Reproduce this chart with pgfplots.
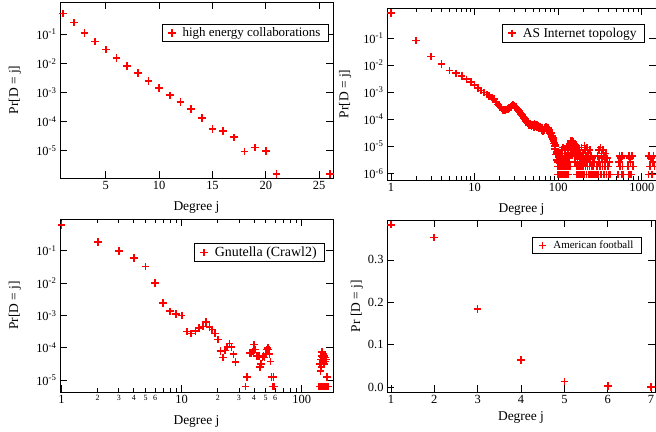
\documentclass[border=0pt]{standalone}
\usepackage{fontspec}
\setmainfont{Liberation Serif}
\usepackage{pgfplots}
\pgfplotsset{compat=1.18}
\newcommand{\tf}{\fontsize{12.5}{14}\selectfont}
\newcommand{\lf}{\fontsize{13.5}{15}\selectfont}
\pgfplotsset{
  myax/.style={
    scale only axis, anchor=south west,
    tick align=inside, xtick pos=both, ytick pos=both,
    major tick length=7bp, minor tick length=4bp,
    axis line style={black, line width=0.9bp},
    tick style={line width=0.8bp, black},
    tick label style={font=\tf, text=black},
    label style={font=\lf, text=black},
    legend style={draw=black, text=black, fill=white, line width=0.9bp, anchor=north east,
      font=\fontsize{13}{15}\selectfont, inner xsep=6bp, inner ysep=1.5bp,
      /tikz/column sep=5bp},
    legend cell align=left,
  },
  redplus/.style={only marks, mark=+, red, mark size=3.8bp, line width=1.7bp},
}
\begin{document}
\begin{tikzpicture}
\useasboundingbox (0,0) rectangle (656bp,432bp);
% Panel 1
\begin{axis}[myax, at={(60bp,254bp)}, width=273bp, height=176bp,
  ymode=log, xmin=0.7, xmax=26.3, ymin=1.17e-6, ymax=1.27,
  xtick={5,10,15,20,25}, xticklabels={5,10,15,20,25},
  ytick={1e-1,1e-2,1e-3,1e-4,1e-5},
  yticklabels={10\textsuperscript{-1},10\textsuperscript{-2},10\textsuperscript{-3},10\textsuperscript{-4},10\textsuperscript{-5}},
  yminorticks=false,
  xlabel={Degree j}, ylabel={Pr[D = j]},
  xlabel style={at={(axis description cs:0.5,-0.17)}, anchor=center},
  ylabel style={at={(axis description cs:-0.165,0.5)}, anchor=center},
  legend style={at={(0.985,0.875)}}]
\addplot[redplus] coordinates {
(1,0.51) (2,0.25) (3,0.11) (4,0.056) (5,0.030) (6,0.015) (7,0.0083) (8,0.0047)
(9,0.0025) (10,0.00145) (11,8.0e-4) (12,4.7e-4) (13,2.7e-4) (14,1.35e-4)
(15,5.6e-5) (16,4.9e-5) (17,2.9e-5) (18,9.5e-6) (19,1.3e-5) (20,1.0e-5)
(21,1.6e-6) (26,1.6e-6)};
\legend{high energy collaborations}
\end{axis}
% Panel 2
\begin{axis}[myax, at={(387bp,252bp)}, width=269bp, height=172bp,
  xmode=log, ymode=log, xmin=0.895, xmax=1480, ymin=5.7e-7, ymax=1.3,
  xtick={1,10,100,1000}, xticklabels={1,10,100,1000},
  ytick={1e-1,1e-2,1e-3,1e-4,1e-5,1e-6},
  yticklabels={10\textsuperscript{-1},10\textsuperscript{-2},10\textsuperscript{-3},10\textsuperscript{-4},10\textsuperscript{-5},10\textsuperscript{-6}},
  yminorticks=false, xminorticks=true,
  xlabel={Degree j}, ylabel={Pr[D = j]},
  xlabel style={at={(axis description cs:0.5,-0.174)}, anchor=center},
  ylabel style={at={(axis description cs:-0.156,0.5)}, anchor=center},
  legend style={at={(0.959,0.907)}, font=\fontsize{13.5}{15}\selectfont}]
\addplot[redplus] coordinates {
(1,0.85) (2,0.082) (3,0.021) (4,0.011) (5,0.0063) (6,0.0050) (7,0.0040) (8,0.0030)
(9,0.0024) (10,0.0019) (11,0.0014) (12,0.00117) (13,9.8e-4) (14,8.3e-4) (15,7.4e-4)
(16,6.3e-4) (17,5.5e-4) (18,4.3e-4) (19,3.5e-4) (20,2.95e-4) (21,2.5e-4) (22,2.2e-4)
(23,2.2e-4) (24,2.3e-4) (25,2.4e-4) (26,2.6e-4) (27,2.8e-4) (28,3.2e-4) (29,3.4e-4)
(30,3.2e-4) (31,2.8e-4) (32,2.5e-4) (33,2.2e-4) (34,2.0e-4) (35,1.8e-4) (36,1.6e-4)
(37,1.4e-4) (38,1.26e-4) (39,1.12e-4) (40,1.0e-4) (41,8.9e-5) (42,7.9e-5) (43,7.4e-5)
(44,7.1e-5) (45,6.0e-5) (46,6.6e-5) (47,6.3e-5) (48,5.6e-5) (49,6.3e-5) (50,6.0e-5)
(51,5.2e-5) (52,6.6e-5) (53,5.6e-5) (54,6.3e-5) (55,5.2e-5) (56,6.0e-5) (57,5.0e-5)
(58,5.6e-5) (59,4.5e-5) (60,5.4e-5) (61,4.8e-5) (62,4.8e-5) (63,4.0e-5) (64,5.0e-5)
(65,4.4e-5) (66,3.5e-5) (67,4.2e-5) (68,3.8e-5) (69,4.5e-5) (70,4.8e-5) (71,5.2e-5)
(72,4.5e-5) (73,5.0e-5) (74,4.2e-5) (75,4.7e-5) (76,5.0e-5) (77,4.0e-5) (78,3.5e-5)
(79,4.2e-5) (80,3.2e-5) (81,2.8e-5) (82,3.2e-5) (83,2.5e-5) (84,2.2e-5) (85,2.4e-5)
(86,1.9e-5) (87,2.1e-5) (88,1.6e-5) (89,1.26e-5) (90,1.4e-5) (91,1.0e-5) (92,7.9e-6)
(93,1.1e-5) (94,5.0e-6) (95,5.6e-6) (96,3.2e-6) (97,6.3e-6)
(98,9e-7) (99,1.8e-6) (100,2.7e-6) (101,9e-7) (102,4.5e-6) (103,9e-7) (104,1.8e-6)
(105,3.6e-6) (106,9e-7) (107,5.4e-6) (108,1.8e-6) (109,9e-7) (110,7.2e-6) (111,2.7e-6)
(112,9e-7) (113,4.5e-6) (114,1.8e-6) (115,9e-6) (116,9e-7) (117,3.6e-6) (118,1.8e-6)
(119,5.4e-6) (120,9e-7) (121,7.2e-6) (122,2.7e-6) (123,1.8e-6) (124,4.5e-6) (125,9e-7)
(126,9e-6) (127,3.6e-6) (128,1.8e-6) (129,5.4e-6) (130,9e-7) (131,1.08e-5) (132,2.7e-6)
(133,7.2e-6) (134,1.8e-6) (135,4.5e-6) (136,1.26e-5) (137,3.6e-6) (138,9e-6) (139,1.8e-6)
(140,1.44e-5) (141,5.4e-6) (142,1.08e-5) (143,1.6e-5) (144,7.2e-6) (145,1.26e-5)
(146,1.44e-5) (147,9e-6) (148,1.6e-5) (149,1.08e-5) (150,1.26e-5) (151,5.4e-6)
(152,1.44e-5) (153,9e-6) (154,1.08e-5) (155,7.2e-6) (156,1.26e-5) (157,4.5e-6)
(158,1.08e-5) (159,9e-6) (160,2.7e-6) (161,7.2e-6) (162,1.08e-5) (163,5.4e-6)
(164,9e-6) (165,1.8e-6) (166,7.2e-6) (167,4.5e-6) (168,9e-7) (169,5.4e-6) (170,3.6e-6)
(172,9e-6) (174,1.8e-6) (175,4.5e-6) (177,9e-7) (178,7.2e-6) (180,2.7e-6) (182,5.4e-6)
(184,1.8e-6) (185,3.6e-6) (187,9e-7) (189,4.5e-6) (190,9e-6) (192,1.8e-6) (194,2.7e-6)
(196,9e-7) (198,5.4e-6) (200,1.8e-6) (203,3.6e-6) (205,9e-7) (207,1.08e-5) (209,2.7e-6)
(211,7.2e-6) (213,1.8e-6) (215,4.5e-6) (218,9e-7) (220,9e-6) (222,2.7e-6) (225,1.8e-6)
(228,5.4e-6) (230,9e-7) (233,3.6e-6) (236,1.8e-6) (238,7.2e-6) (241,9e-7) (244,2.7e-6)
(247,4.5e-6) (250,1.8e-6) (254,9e-7) (258,3.6e-6) (262,1.8e-6) (266,9e-7) (270,2.7e-6)
(285,9e-7) (290,1.8e-6) (295,4.5e-6) (300,9e-7) (305,7.2e-6) (310,2.7e-6) (315,1.8e-6)
(320,9e-6) (325,9e-7) (330,5.4e-6) (335,3.6e-6) (340,1.8e-6) (345,7.2e-6) (350,9e-7)
(355,4.5e-6) (360,2.7e-6) (365,1.8e-6) (370,5.4e-6) (378,9e-7) (385,3.6e-6) (392,1.8e-6)
(400,9e-7) (410,2.7e-6) (420,9e-7)
(520,9e-7) (530,2.7e-6) (540,4.5e-6) (550,1.8e-6) (560,3.6e-6) (570,9e-7) (580,4.5e-6)
(590,1.8e-6) (600,9e-7) (690,1.8e-6) (700,4.5e-6) (710,9e-7) (720,3.6e-6) (735,2.7e-6)
(750,9e-7) (765,4.5e-6) (780,1.8e-6) (1200,9e-7) (1230,4.5e-6) (1260,1.8e-6)
(1290,3.6e-6) (1320,9e-7) (1350,2.7e-6) (1380,4.5e-6) (1420,1.8e-6)};
\legend{AS Internet topology}
\end{axis}
% Panel 3
\begin{axis}[myax, at={(60bp,40bp)}, width=273bp, height=173bp,
  xmode=log, ymode=log, xmin=0.97, xmax=182, ymin=4.3e-6, ymax=0.97,
  xtick={1,10,100}, xticklabels={1,10,100},
  extra x ticks={2,3,4,5,6,20,30,40,50,60},
  extra x tick labels={2,3,4,5,6,2,3,4,5,6},
  extra x tick style={major tick length=4bp, tick label style={font=\fontsize{8}{9}\selectfont}},
  ytick={1e-1,1e-2,1e-3,1e-4,1e-5},
  yticklabels={10\textsuperscript{-1},10\textsuperscript{-2},10\textsuperscript{-3},10\textsuperscript{-4},10\textsuperscript{-5}},
  yminorticks=false, xminorticks=true,
  xlabel={Degree j}, ylabel={Pr[D = j]},
  xlabel style={at={(axis description cs:0.5,-0.173)}, anchor=center},
  ylabel style={at={(axis description cs:-0.165,0.5)}, anchor=center},
  legend style={at={(0.971,0.861)}, font=\fontsize{14}{16}\selectfont}]
\addplot[redplus] coordinates {
(1,0.63) (2,0.19) (3,0.10) (4,0.059) (5,0.033) (6,0.0100) (7,0.0024) (8,0.00135)
(9,0.00112) (10,0.00100) (11,3.2e-4) (12,2.75e-4) (13,3.3e-4) (14,4.1e-4) (15,4.6e-4)
(16,6.2e-4) (17,4.4e-4) (18,3.7e-4) (19,2.75e-4) (20,1.8e-4) (21,7.9e-5) (22,5.0e-5)
(23,8.3e-5) (24,1.1e-4) (25,1.35e-4) (26,1.05e-4) (27,6.3e-5) (28,3.6e-5)
(34,6.3e-6) (35,1.26e-5) (37,7.0e-5) (38,7.0e-5) (39,7.6e-5) (40,1.26e-4) (41,8.9e-5)
(42,5.5e-5) (43,5.5e-5) (44,5.5e-5) (45,2.5e-5) (46,3.2e-5) (47,5.0e-5) (48,5.5e-5)
(49,5.0e-5) (50,6.6e-5) (51,8.9e-5) (52,1.0e-4) (53,8.9e-5) (54,6.3e-5) (55,3.8e-5)
(56,1.26e-5) (57,6.3e-6) (58,1.26e-5) (59,6.3e-6)
(140,6.3e-6) (142,3.1e-5) (143,1.9e-5) (144,6.3e-6) (145,4.4e-5) (146,2.5e-5)
(147,5.7e-5) (148,7.6e-5) (149,3.8e-5) (150,6.3e-6) (151,5.0e-5) (152,6.3e-5)
(153,4.4e-5) (154,3.2e-5) (155,5.7e-5) (156,3.8e-5) (157,6.3e-6) (158,5.0e-5)
(160,4.4e-5) (162,1.26e-5) (163,6.3e-6) (165,6.3e-6)};
\legend{Gnutella (Crawl2)}
\end{axis}
% Panel 4
\begin{axis}[myax, at={(387bp,40bp)}, width=268bp, height=172bp,
  xmin=0.91, xmax=7.09, ymin=-0.011, ymax=0.394,
  xtick={1,2,3,4,5,6,7}, xticklabels={1,2,3,4,5,6,7},
  ytick={0,0.1,0.2,0.3}, yticklabels={0.0,0.1,0.2,0.3},
  xlabel={Degree j}, ylabel={Pr [D = j]},
  xlabel style={at={(axis description cs:0.5,-0.151)}, anchor=center},
  ylabel style={at={(axis description cs:-0.112,0.5)}, anchor=center},
  legend style={at={(0.951,0.901)}, font=\fontsize{11}{13}\selectfont}]
\addplot[redplus] coordinates {
(1,0.383) (2,0.353) (3,0.184) (4,0.064) (5,0.014) (6,0.003) (7,0.001)};
\legend{American football}
\end{axis}
\end{tikzpicture}
\end{document}
